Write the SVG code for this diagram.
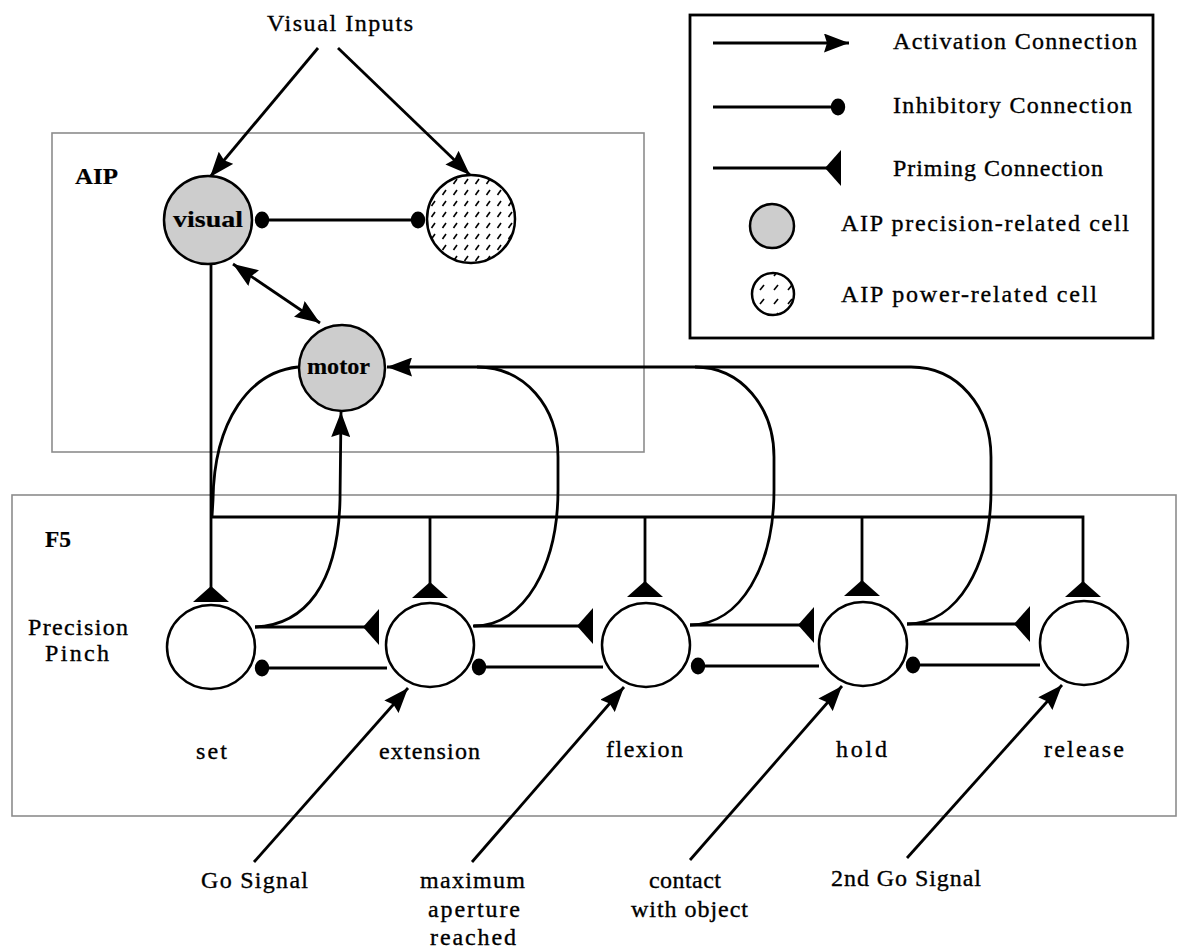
<svg xmlns="http://www.w3.org/2000/svg" width="1181" height="949" viewBox="0 0 1181 949">
<defs>
<style>
.lbl{font-family:"Liberation Serif","Times New Roman",serif;font-size:24px;fill:#000;stroke:#000;stroke-width:0.35}
.b{font-weight:bold;stroke-width:0.2}
.conn{fill:none;stroke:#000;stroke-width:2.8}
.cell{fill:#fff;stroke:#000;stroke-width:2.5}
.prec{fill:#cdcdcd;stroke:#000;stroke-width:2.5}
.pow{fill:url(#dash);stroke:#000;stroke-width:2.5}
.powl{fill:url(#dashL);stroke:#000;stroke-width:2.5}
.area{fill:none;stroke:#8c8c8c;stroke-width:1.6}
</style>
<marker id="act" markerUnits="userSpaceOnUse" viewBox="0 0 25 19" markerWidth="25" markerHeight="19" refX="25" refY="9.5" orient="auto-start-reverse">
<path d="M0,0 L25,9.5 L0,19 L3,9.5 z" fill="#000"/>
</marker>
<marker id="inh" markerUnits="userSpaceOnUse" viewBox="0 0 16 18" markerWidth="16" markerHeight="18" refX="8" refY="9" orient="auto">
<ellipse cx="8" cy="9" rx="7.2" ry="8.5" fill="#000"/>
</marker>
<marker id="prime" markerUnits="userSpaceOnUse" viewBox="0 0 16 36" markerWidth="16" markerHeight="36" refX="16" refY="18" orient="auto">
<path d="M0,18 L16,0 L16,36 z" fill="#000"/>
</marker>
<pattern id="dash" patternUnits="userSpaceOnUse" width="11" height="11">
<rect width="11" height="11" fill="#fff"/>
<path d="M2.5,8 L6,3" stroke="#000" stroke-width="1.6"/>
</pattern>
<pattern id="dashL" patternUnits="userSpaceOnUse" width="14" height="14">
<rect width="14" height="14" fill="#fff"/>
<path d="M4,10 L8,5" stroke="#000" stroke-width="1.6"/>
</pattern>
</defs>
<rect width="1181" height="949" fill="#fff"/>

<g id="area-aip">
<rect class="area" x="52" y="133" width="592" height="319"/>
<text class="lbl b" x="75" y="184" font-size="24" textLength="43" lengthAdjust="spacingAndGlyphs">AIP</text>
</g>
<g id="area-f5">
<rect class="area" x="12" y="495" width="1164" height="321"/>
<text class="lbl b" x="45" y="547" font-size="24" textLength="26" lengthAdjust="spacingAndGlyphs">F5</text>
<text class="lbl" x="28" y="635" textLength="100">Precision</text>
<text class="lbl" x="45" y="661" textLength="64">Pinch</text>
</g>

<g id="legend">
<rect x="690" y="15" width="463" height="323" fill="none" stroke="#000" stroke-width="2.8"/>
<path class="conn" d="M713 43 L849 43" marker-end="url(#act)"/>
<text class="lbl" x="893" y="49" textLength="244">Activation Connection</text>
<path class="conn" d="M713 107 L838 107" marker-end="url(#inh)"/>
<text class="lbl" x="893" y="113" textLength="239">Inhibitory Connection</text>
<path class="conn" d="M713 168 L841 168" marker-end="url(#prime)"/>
<text class="lbl" x="893" y="176" textLength="210">Priming Connection</text>
<circle class="prec" cx="772" cy="226" r="22"/>
<text class="lbl" x="841" y="231" textLength="288">AIP precision-related cell</text>
<circle class="powl" cx="773" cy="294" r="21"/>
<text class="lbl" x="841" y="302" textLength="256">AIP power-related cell</text>
</g>

<g id="connectors">
<path class="conn" d="M318 48 L210 177" marker-end="url(#act)"/>
<path class="conn" d="M338 48 L470 175" marker-end="url(#act)"/>
<path class="conn" d="M262 220 L418 220" marker-start="url(#inh)" marker-end="url(#inh)"/>
<path class="conn" d="M233 264 L320 323" marker-start="url(#act)" marker-end="url(#act)"/>
<path class="conn" d="M211 264 L211 602" marker-end="url(#prime)"/>
<path class="conn" d="M211 517 L1083 517 L1083 597" marker-end="url(#prime)"/>
<path class="conn" d="M430 517 L430 598" marker-end="url(#prime)"/>
<path class="conn" d="M645 517 L645 597" marker-end="url(#prime)"/>
<path class="conn" d="M862 517 L862 596" marker-end="url(#prime)"/>
<path class="conn" d="M911 367 L387 367" marker-end="url(#act)"/>
<path class="conn" d="M474 626 C525 626 558 565 558 490 L558 457 C558 407 525 367 477 367"/>
<path class="conn" d="M690 625 C741 625 774 565 774 490 L774 457 C774 407 741 367 695 367"/>
<path class="conn" d="M907 624 C958 624 991 565 991 490 L991 457 C991 407 958 367 911 367"/>
<path class="conn" d="M298 367 C250 372 214 420 213 500 L212 517"/>
<path class="conn" d="M255 627 C305 625 338 585 340 500 L341 412" marker-end="url(#act)"/>
<path class="conn" d="M255 627 L379 627" marker-end="url(#prime)"/>
<path class="conn" d="M473 626 L593 626" marker-end="url(#prime)"/>
<path class="conn" d="M690 625 L814 625" marker-end="url(#prime)"/>
<path class="conn" d="M907 624 L1030 624" marker-end="url(#prime)"/>
<path class="conn" d="M387 668 L262 668" marker-end="url(#inh)"/>
<path class="conn" d="M603 667 L479 667" marker-end="url(#inh)"/>
<path class="conn" d="M819 666 L698 666" marker-end="url(#inh)"/>
<path class="conn" d="M1040 665 L913 665" marker-end="url(#inh)"/>
<path class="conn" d="M254 862 L408 688" marker-end="url(#act)"/>
<path class="conn" d="M472 862 L624 687" marker-end="url(#act)"/>
<path class="conn" d="M690 860 L842 686" marker-end="url(#act)"/>
<path class="conn" d="M907 858 L1062 685" marker-end="url(#act)"/>
</g>

<g id="label-visual-inputs">
<text class="lbl" x="267" y="31" textLength="146">Visual Inputs</text>
</g>
<g id="node-visual">
<circle class="prec" cx="208" cy="220" r="44"/>
<text class="lbl b" x="173" y="227" textLength="70" lengthAdjust="spacingAndGlyphs">visual</text>
</g>
<g id="node-power">
<circle class="pow" cx="471" cy="219" r="44"/>
</g>
<g id="node-motor">
<circle class="prec" cx="342" cy="368" r="43"/>
<text class="lbl b" x="307" y="374" textLength="63" lengthAdjust="spacingAndGlyphs">motor</text>
</g>
<g id="node-set">
<ellipse class="cell" cx="211" cy="647" rx="44" ry="42"/>
<text class="lbl" x="196" y="759" textLength="31">set</text>
</g>
<g id="node-extension">
<ellipse class="cell" cx="430" cy="645" rx="44" ry="42"/>
<text class="lbl" x="379" y="759" textLength="101">extension</text>
</g>
<g id="node-flexion">
<ellipse class="cell" cx="646" cy="645" rx="44" ry="42"/>
<text class="lbl" x="606" y="757" textLength="77">flexion</text>
</g>
<g id="node-hold">
<ellipse class="cell" cx="863" cy="644" rx="44" ry="42"/>
<text class="lbl" x="836" y="757" textLength="51">hold</text>
</g>
<g id="node-release">
<ellipse class="cell" cx="1084" cy="643" rx="44" ry="42"/>
<text class="lbl" x="1044" y="757" textLength="80">release</text>
</g>

<g id="input-go">
<text class="lbl" x="201" y="888" textLength="107">Go Signal</text>
</g>
<g id="input-max">
<text class="lbl" x="420" y="888" textLength="105">maximum</text>
<text class="lbl" x="428" y="917" textLength="92">aperture</text>
<text class="lbl" x="430" y="945" textLength="86">reached</text>
</g>
<g id="input-contact">
<text class="lbl" x="649" y="888" textLength="72">contact</text>
<text class="lbl" x="631" y="917" textLength="117">with object</text>
</g>
<g id="input-go2">
<text class="lbl" x="831" y="886" textLength="150">2nd Go Signal</text>
</g>
</svg>
